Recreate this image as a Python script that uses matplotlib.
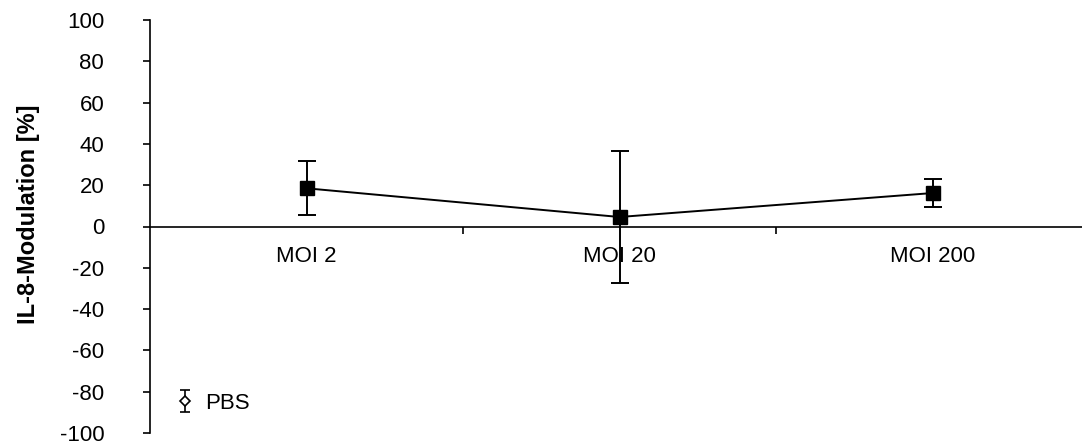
import matplotlib

matplotlib.use("Agg")
import matplotlib.pyplot as plt
import numpy as np

CATEGORIES = ["MOI 2", "MOI 20", "MOI 200"]
MODULATION = [18.5, 4.6, 16.2]
MODULATION_ERR = [13.0, 32.2, 6.6]
Y_TICKS = [-100, -80, -60, -40, -20, 0, 20, 40, 60, 80, 100]

plt.rcParams["font.family"] = ["Liberation Sans", "DejaVu Sans"]

fig = plt.figure(figsize=(10.82, 4.46), dpi=100)
ax = fig.add_axes([150 / 1082, 13 / 446, 932 / 1082, 413 / 446])

x = np.arange(len(CATEGORIES)) + 0.5
ax.errorbar(
    x, MODULATION, yerr=MODULATION_ERR,
    color="black", linewidth=1.4, marker="s", markersize=9.5,
    capsize=6.5, elinewidth=1.4, capthick=1.4,
)

# PBS series: only its legend entry is visible in the figure
pbs = ax.errorbar(
    [np.nan], [np.nan], yerr=[np.nan],
    color="black", linewidth=0, marker="D", markersize=5,
    markerfacecolor="white", markeredgewidth=1.2,
    capsize=3.5, elinewidth=1.2, capthick=1.2, label="PBS",
)
ax.legend(
    handles=[pbs], loc="center left", bbox_to_anchor=(0.028, 0.072),
    frameon=False, fontsize=16, handlelength=0.8, handletextpad=0.5,
    borderpad=0, borderaxespad=0,
)

ax.set_xlim(0, 932 / 313)
ax.set_ylim(-100, 100)
ax.set_yticks(Y_TICKS)
ax.set_yticklabels([str(v) for v in Y_TICKS], fontsize=16)
ax.tick_params(axis="y", direction="out", length=5, width=1.2, pad=28)

ax.spines["bottom"].set_position(("data", 0))
for spine in ["top", "right"]:
    ax.spines[spine].set_visible(False)
ax.spines["left"].set_linewidth(1.2)
ax.spines["bottom"].set_linewidth(1.2)

ax.set_xticks([1, 2])
ax.set_xticklabels([])
ax.tick_params(axis="x", which="major", direction="out", length=5, width=1.2)
ax.set_xticks(x, minor=True)
ax.set_xticklabels(CATEGORIES, minor=True, fontsize=16)
ax.tick_params(axis="x", which="minor", length=0, pad=14)

ax.set_ylabel("IL-8-Modulation [%]", fontsize=17, fontweight="bold")
ax.yaxis.set_label_coords(-0.118, 0.53)

fig.savefig("out.png", dpi=100)
